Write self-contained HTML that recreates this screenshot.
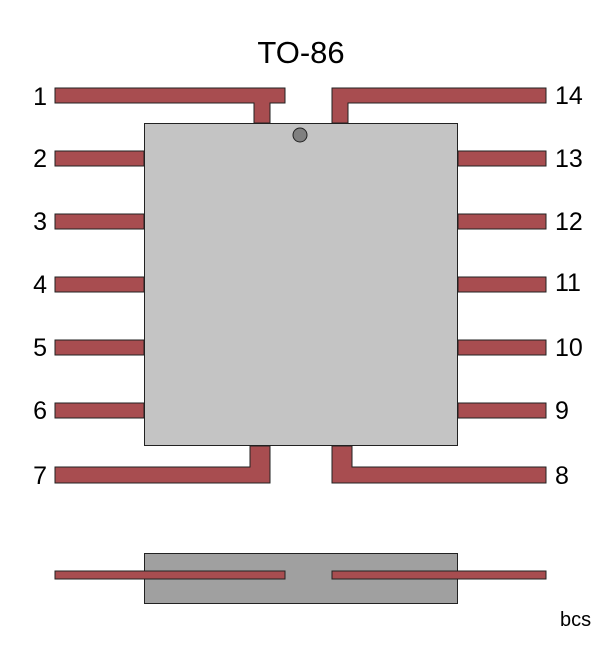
<!DOCTYPE html>
<html><head><style>body{margin:0;background:#fff}</style></head><body>
<svg width="603" height="640" xmlns="http://www.w3.org/2000/svg" font-family="Liberation Sans, sans-serif">
<rect width="603" height="640" fill="#fff"/>
<text x="301" y="63" font-size="31" text-anchor="middle">TO-86</text>
<g fill="#a84d50" stroke="#222" stroke-width="1">
<path d="M55,88 H285 V103 H270 V123 H254 V103 H55 Z"/>
<path d="M332,88 H546 V103 H348 V123 H332 Z"/>
<path d="M55,467 H250 V446 H270 V483 H55 Z"/>
<path d="M332,446 H352 V467 H546 V483 H332 Z"/>
<rect x="55" y="151" width="89" height="15"/>
<rect x="55" y="214" width="89" height="15"/>
<rect x="55" y="277" width="89" height="15"/>
<rect x="55" y="340" width="89" height="15"/>
<rect x="55" y="403" width="89" height="15"/>
<rect x="458" y="151" width="88" height="15"/>
<rect x="458" y="214" width="88" height="15"/>
<rect x="458" y="277" width="88" height="15"/>
<rect x="458" y="340" width="88" height="15"/>
<rect x="458" y="403" width="88" height="15"/>
</g>
<rect x="144.5" y="123.5" width="313" height="322" fill="#c4c4c4" stroke="#222"/>
<circle cx="300" cy="135" r="7" fill="#808080" stroke="#222"/>
<rect x="144.5" y="553.5" width="313" height="50" fill="#a0a0a0" stroke="#222"/>
<g fill="#a84d50" stroke="#222" stroke-width="1">
<rect x="55" y="571" width="230" height="8"/>
<rect x="332" y="571" width="214" height="8"/>
</g>
<g font-size="25">
<text x="47" y="105" text-anchor="end">1</text>
<text x="47" y="167" text-anchor="end">2</text>
<text x="47" y="230" text-anchor="end">3</text>
<text x="47" y="293" text-anchor="end">4</text>
<text x="47" y="356" text-anchor="end">5</text>
<text x="47" y="419" text-anchor="end">6</text>
<text x="47" y="484" text-anchor="end">7</text>
<text x="555" y="104">14</text>
<text x="555" y="167">13</text>
<text x="555" y="230">12</text>
<text x="555" y="291">11</text>
<text x="555" y="356">10</text>
<text x="555" y="419">9</text>
<text x="555" y="484">8</text>
</g>
<text x="560" y="626" font-size="20">bcs</text>
</svg>
</body></html>
